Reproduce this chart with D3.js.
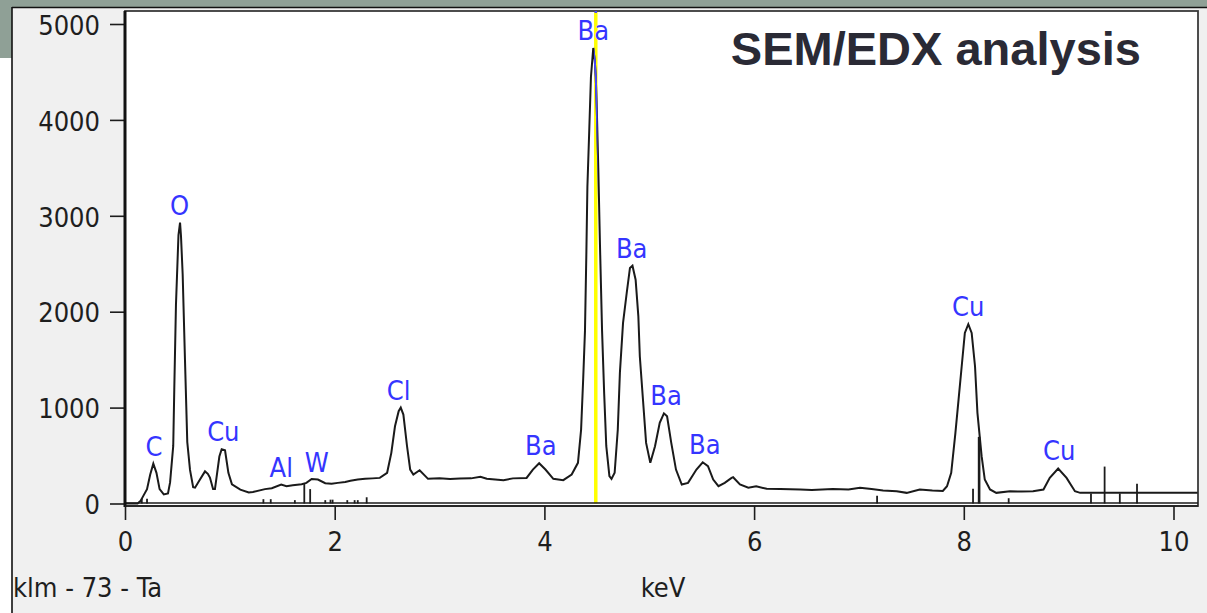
<!DOCTYPE html>
<html>
<head>
<meta charset="utf-8">
<script src="https://cdn.jsdelivr.net/npm/d3@7"></script>
<style>
  html, body { margin: 0; padding: 0; background: #ffffff; overflow: hidden; }
  svg { display: block; }
</style>
</head>
<body>
<svg id="chart" width="1207" height="613"></svg>
<script>
// EDX spectrum: energy (keV) and counts
const energy = [
  0.00, 0.12, 0.15, 0.18, 0.21, 0.24, 0.27, 0.30, 0.33, 0.37, 0.41, 0.43, 0.46, 0.47, 0.486,
  0.51, 0.525, 0.534, 0.55, 0.572, 0.594, 0.62, 0.65, 0.668, 0.715, 0.763, 0.79, 0.81, 0.84,
  0.858, 0.90, 0.922, 0.954, 0.986, 1.02, 1.10, 1.18, 1.22, 1.335, 1.40, 1.49, 1.54, 1.60,
  1.685, 1.73, 1.78, 1.84, 1.91, 1.97, 2.03, 2.10, 2.15, 2.22, 2.29, 2.36, 2.43, 2.50, 2.54,
  2.575, 2.61, 2.63, 2.655, 2.69, 2.72, 2.75, 2.81, 2.89, 3.00, 3.10, 3.195, 3.30, 3.39, 3.45,
  3.61, 3.70, 3.83, 3.89, 3.95, 4.01, 4.085, 4.18, 4.26, 4.32, 4.35, 4.37, 4.387, 4.40, 4.41,
  4.428, 4.444, 4.466, 4.48, 4.49, 4.50, 4.514, 4.53, 4.55, 4.57, 4.59, 4.62, 4.64, 4.67, 4.70,
  4.72, 4.75, 4.785, 4.816, 4.84, 4.87, 4.896, 4.91, 4.94, 4.97, 5.01, 5.055, 5.10, 5.14, 5.17,
  5.21, 5.255, 5.31, 5.37, 5.45, 5.51, 5.56, 5.61, 5.66, 5.72, 5.785, 5.80, 5.865, 5.945, 6.02,
  6.12, 6.25, 6.44, 6.55, 6.75, 6.90, 7.01, 7.12, 7.23, 7.36, 7.455, 7.58, 7.70, 7.80, 7.84,
  7.88, 7.92, 7.95, 7.98, 8.01, 8.043, 8.075, 8.107, 8.13, 8.17, 8.20, 8.25, 8.31, 8.44, 8.55,
  8.66, 8.76, 8.82, 8.90, 8.98, 9.06, 9.11, 10.23
];
const counts = [
  0, 0, 30, 90, 150, 300, 415, 320, 150, 95, 105, 220, 600, 1190, 2070,
  2800, 2930, 2790, 2390, 1500, 640, 350, 170, 165, 250, 335, 310, 270, 150,
  150, 490, 565, 555, 320, 200, 145, 115, 120, 150, 160, 198, 180, 190,
  200, 215, 255, 250, 212, 205, 215, 225, 238, 250, 257, 262, 267, 320, 528,
  805, 962, 1000, 927, 597, 354, 302, 347, 257, 262, 255, 260, 262, 278, 258,
  243, 262, 267, 354, 420, 354, 257, 243, 302, 424, 771, 1300, 1800, 2600, 3300,
  3900, 4450, 4750, 4620, 4450, 4100, 3500, 2700, 1800, 1150, 600, 285, 257, 320, 771,
  1362, 1883, 2195, 2456, 2480, 2334, 1952, 1535, 1084, 632, 424, 597, 841, 940, 910,
  632, 354, 198, 215, 354, 430, 389, 250, 180, 215, 267, 274, 198, 164, 180,
  153, 150, 146, 140, 150, 145, 164, 150, 135, 128, 111, 146, 135, 130, 180,
  320, 737, 1084, 1431, 1778, 1870, 1778, 1431, 945, 493, 250, 146, 111, 128, 125,
  128, 146, 267, 365, 267, 128, 111, 111
];

// Identified peaks
const peakNames  = ["C", "O", "Cu", "Al", "W", "Cl", "Ba", "Ba", "Ba", "Ba", "Ba", "Cu", "Cu"];
const peakEnergy = [0.277, 0.52, 0.938, 1.49, 1.83, 2.61, 3.966, 4.466, 4.833, 5.161, 5.53, 8.043, 8.91];
const peakCounts = [415, 2930, 565, 198, 250, 1000, 420, 4750, 2480, 940, 430, 1870, 365];

// KLM line markers for Ta (Z = 73)
const markerEnergy = [0.16, 0.21, 1.32, 1.39, 1.62, 1.71, 1.766, 1.91, 1.96, 1.98, 2.12, 2.19, 2.22, 2.305,
                      7.173, 8.088, 8.146, 8.428, 9.213, 9.343, 9.488, 9.652];
const markerCounts = [50, 50, 45, 45, 35, 210, 150, 35, 40, 40, 35, 35, 35, 65,
                      80, 155, 695, 55, 105, 385, 105, 205];

const xTicks = [0, 2, 4, 6, 8, 10];
const yTicks = [0, 1000, 2000, 3000, 4000, 5000];
const cursorKeV = 4.49;
const titleText = "SEM/EDX analysis";
const xAxisTitle = "keV";
const klmText = "klm - 73 - Ta";

const W = 1207, H = 613;
const plot = { left: 125, top: 11, right: 1198, bottom: 506 };
const FONT = "'DejaVu Sans Condensed', 'Liberation Sans', Arial, sans-serif";
const FS = 27;

const svg = d3.select("#chart");

const x = d3.scaleLinear().domain([0, 10]).range([125, 1173.5]);
const y = d3.scaleLinear().domain([0, 5000]).range([503.5, 24]);

// window frame: grey-green band and light panel
svg.append("rect").attr("x", 0).attr("y", 0).attr("width", W).attr("height", 8).attr("fill", "#8fa096");
svg.append("rect").attr("x", 0).attr("y", 0).attr("width", 12).attr("height", 58).attr("fill", "#8fa096");
svg.append("rect").attr("x", 12).attr("y", 8).attr("width", W - 12).attr("height", H - 8).attr("fill", "#f0f0f0");
svg.append("line").attr("x1", 12).attr("x2", 12).attr("y1", 7).attr("y2", H)
  .attr("stroke", "#111").attr("stroke-width", 1.6);
svg.append("line").attr("x1", 12).attr("x2", W).attr("y1", 7.5).attr("y2", 7.5)
  .attr("stroke", "#111").attr("stroke-width", 1.6);

// plot area
svg.append("rect")
  .attr("x", plot.left).attr("y", plot.top)
  .attr("width", plot.right - plot.left).attr("height", plot.bottom - plot.top)
  .attr("fill", "#ffffff").attr("stroke", "#3a3a3a").attr("stroke-width", 1.8);

svg.append("defs").append("clipPath").attr("id", "plotClip")
  .append("rect").attr("x", plot.left).attr("y", plot.top)
  .attr("width", plot.right - plot.left).attr("height", plot.bottom - plot.top);

// cursor line
const cx = x(cursorKeV);
svg.append("line").attr("x1", cx).attr("x2", cx).attr("y1", plot.top + 1).attr("y2", y(0))
  .attr("stroke", "#ffff00").attr("stroke-width", 3.5);
svg.append("line").attr("x1", cx).attr("x2", cx).attr("y1", plot.top).attr("y2", plot.top + 2)
  .attr("stroke", "#4848ff").attr("stroke-width", 2.5);

// spectrum
const pts = energy.map((e, i) => [e, counts[i]]);
const line = d3.line().x(d => x(d[0])).y(d => y(d[1]));
svg.append("path")
  .attr("d", line(pts))
  .attr("clip-path", "url(#plotClip)")
  .attr("fill", "none").attr("stroke", "#1a1a1a").attr("stroke-width", 2)
  .attr("stroke-linejoin", "miter");

// spectrum drawn in blue where it crosses the cursor
svg.append("clipPath").attr("id", "cursorClip")
  .append("rect").attr("x", cx - 1.75).attr("y", plot.top).attr("width", 3.5).attr("height", 460);
svg.append("path")
  .attr("d", line(pts))
  .attr("clip-path", "url(#cursorClip)")
  .attr("fill", "none").attr("stroke", "#4848ff").attr("stroke-width", 2);

// zero line and KLM markers
svg.append("line").attr("x1", plot.left).attr("x2", plot.right).attr("y1", 503).attr("y2", 503)
  .attr("stroke", "#1c1c1c").attr("stroke-width", 1.6);
svg.append("g").selectAll("line")
  .data(markerEnergy.map((e, i) => [e, markerCounts[i]]))
  .join("line")
  .attr("x1", d => x(d[0])).attr("x2", d => x(d[0]))
  .attr("y1", y(0)).attr("y2", d => y(d[1]))
  .attr("stroke", "#1c1c1c")
  .attr("stroke-width", d => d[1] > 500 ? 2.6 : 1.8);

// peak labels
svg.append("g").selectAll("text")
  .data(peakNames.map((n, i) => ({ n, e: peakEnergy[i], c: peakCounts[i] })))
  .join("text")
  .attr("x", d => x(d.e)).attr("y", d => y(d.c) - 8)
  .attr("text-anchor", "middle")
  .attr("font-family", FONT).attr("font-size", FS)
  .attr("fill", "#3535ff")
  .text(d => d.n);

// y axis
const yAxis = svg.append("g").attr("transform", `translate(${plot.left - 1},0)`)
  .call(d3.axisLeft(y).tickValues(yTicks).tickSize(14).tickPadding(10).tickFormat(d3.format("d")));
yAxis.select(".domain").remove();
yAxis.selectAll(".tick line").attr("stroke", "#1c1c1c").attr("stroke-width", 1.6);
yAxis.selectAll(".tick text").attr("font-family", FONT).attr("font-size", FS)
  .attr("fill", "#1e1e1e").attr("dy", "0.38em");
svg.append("line").attr("x1", plot.left).attr("x2", plot.left).attr("y1", plot.top).attr("y2", 507)
  .attr("stroke", "#111").attr("stroke-width", 3);

// x axis
const xAxis = svg.append("g").attr("transform", `translate(0,${plot.bottom})`)
  .call(d3.axisBottom(x).tickValues(xTicks).tickSize(14).tickFormat(d3.format("d")));
xAxis.select(".domain").attr("stroke", "#1c1c1c").attr("stroke-width", 1.6)
  .attr("d", `M${plot.left},0H${plot.right}`);
xAxis.selectAll(".tick line").attr("stroke", "#1c1c1c").attr("stroke-width", 1.6);
xAxis.selectAll(".tick text").attr("font-family", FONT).attr("font-size", FS)
  .attr("fill", "#1e1e1e").attr("y", 45).attr("dy", 0);

// axis caption and detector label
svg.append("text").attr("x", 663).attr("y", 597).attr("text-anchor", "middle")
  .attr("font-family", FONT).attr("font-size", FS).attr("fill", "#1e1e1e").text(xAxisTitle);
svg.append("text").attr("x", 13).attr("y", 597)
  .attr("font-family", FONT).attr("font-size", FS).attr("fill", "#1e1e1e").text(klmText);

// title
svg.append("text").attr("x", 1141).attr("y", 65).attr("text-anchor", "end")
  .attr("font-family", "'Liberation Sans', Arial, sans-serif").attr("font-weight", "bold")
  .attr("font-size", 47).attr("fill", "#2a2a35").text(titleText);
</script>
</body>
</html>
